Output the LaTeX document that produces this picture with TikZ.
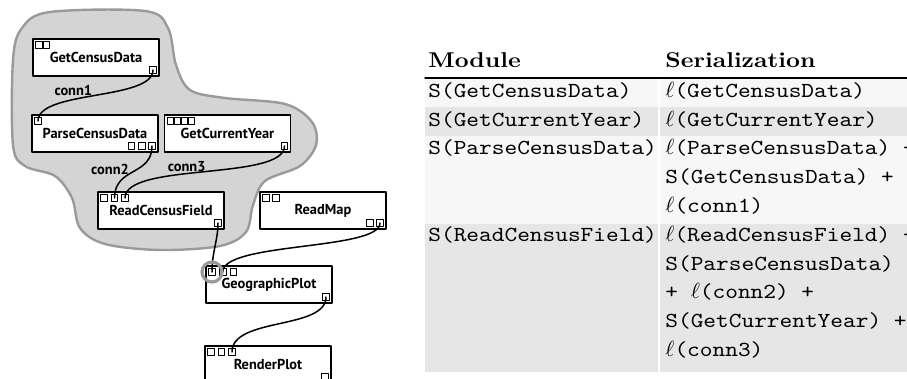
\documentclass[tikz,border=0pt]{standalone}
\usepackage{fontspec}
\newfontfamily\wffont{PT Sans}
\newfontfamily\tabtt{lmmono10-regular.otf}[FakeStretch=1.13]
\newfontfamily\tabhead{lmroman10-bold.otf}[FakeStretch=1.13]
\definecolor{blobfill}{HTML}{D4D4D4}
\definecolor{blobline}{HTML}{9A9A9A}
\definecolor{rowlight}{HTML}{F7F7F7}
\definecolor{rowdark}{HTML}{E6E6E6}

\begin{document}
\begin{tikzpicture}[x=0.5pt,y=-0.5pt,line cap=round,line join=round,
  module/.style={draw,line width=0.8pt,fill=white,minimum width=63pt,minimum height=18.5pt,inner sep=0pt,
    font=\wffont\bfseries\fontsize{7.2}{8}\selectfont},
  port/.style={draw,line width=0.5pt,fill=white,minimum size=3.3pt,inner sep=0pt},
  conn/.style={line width=0.75pt},
  connlabel/.style={inner sep=0pt,font=\wffont\bfseries\fontsize{7.2}{8}\selectfont},
  cell/.style={anchor=base west,inner sep=0pt,font=\tabtt\fontsize{10.7}{14.35}\selectfont},
  headcell/.style={anchor=base west,inner sep=0pt,font=\tabhead\fontsize{10.7}{14}\selectfont}]
  \useasboundingbox (0,0) rectangle (907,379);
  \clip (0,0) rectangle (907,379);

  % grey region round the upstream part
  \draw[blobline,fill=blobfill,line width=1.2pt] plot[smooth cycle,tension=0.55] coordinates {
    (13,60) (22,28) (50,12) (145,11) (168,28) (176,65) (190,90) (225,98) (285,104)
    (312,122) (316,145) (300,166) (265,181) (253,205) (246,232) (220,246) (160,250)
    (105,244) (80,228) (72,198) (55,176) (25,166) (13,145)};

  % modules
  \node[module] (gcd) at (96,57.5) {GetCensusData};
  \node[module] (pcd) at (95,133.5) {ParseCensusData};
  \node[module] (gcy) at (227.5,133.5) {GetCurrentYear};
  \node[module] (rcf) at (161,210.5) {ReadCensusField};
  \node[module] (rm) at (323,210.5) {ReadMap};
  \node[module] (gp) at (269,284.5) {GeographicPlot};
  \node[module] (rp) at (268,364.5) {RenderPlot};

  % ports: box / inputs / spacing / outputs / spacing
  \foreach \b/\ni/\di/\no/\do in {gcd/2/7.3/1/10, pcd/1/10/3/10.3, gcy/4/7/1/10,
      rcf/3/10.5/1/10, rm/2/10/2/10, gp/3/10.7/1/10, rp/3/10.5/1/10} {
    \foreach \k in {1,...,\ni}
      \node[port,anchor=north west] (\b-i\k) at ([shift={({3+(\k-1)*\di},3)}]\b.north west) {};
    \foreach \k in {1,...,\no}
      \node[port,anchor=south east] (\b-o\k) at ([shift={({-3-(\no-\k)*\do},-3)}]\b.south east) {};
  }

  % connections
  \draw[conn] (gcd-o1.center) .. controls +(0,30.5) and +(0,-31) .. (pcd-i1.center);
  \draw[conn] (pcd-o3.center) .. controls +(0,30) and +(0,-31) .. (rcf-i2.center);
  \draw[conn] (gcy-o1.center) .. controls +(0,35) and +(0,-36) .. (rcf-i3.center);
  \draw[conn] (rcf-o1.center) .. controls +(0,17) and +(0,-20) .. (gp-i1.center);
  \draw[conn] (rm-o2.center) .. controls +(0,27.5) and +(0,-30) .. (gp-i2.center);
  \draw[conn] (gp-o1.center) .. controls +(0,33) and +(0,-35) .. (rp-i3.center);
  \node[connlabel] (c1) at (73.3,90) {conn1};
  \node[connlabel] (c2) at (110,169) {conn2};
  \node[connlabel] (c3) at (186.7,166.5) {conn3};
  \draw[blobline,line width=1.6pt] (gp-i1.center) circle (10);

  % table
  \fill[rowlight] (425,79) rectangle (658,107.5);
  \fill[rowlight] (660,79) rectangle (907,107.5);
  \fill[rowdark] (425,107.5) rectangle (658,136.5);
  \fill[rowdark] (660,107.5) rectangle (907,136.5);
  \fill[rowlight] (425,136.5) rectangle (658,224);
  \fill[rowlight] (660,136.5) rectangle (907,224);
  \fill[rowdark] (425,224) rectangle (658,372);
  \fill[rowdark] (660,224) rectangle (907,372);
  \draw[line width=0.7pt] (425,78) -- (907,78);
  \node[headcell] (hmod) at (428,67.5) {Module};
  \node[headcell] (hser) at (665,67.5) {Serialization};
  \node[cell] (m1) at (428,97.5) {S(GetCensusData)};
  \node[cell] (m2) at (428,126.3) {S(GetCurrentYear)};
  \node[cell] (m3) at (428,155) {S(ParseCensusData)};
  \node[cell] (m4) at (428,241.5) {S(ReadCensusField)};
  \node[cell] (s1) at (665,97.5) {$\ell$(GetCensusData)};
  \node[cell] (s2) at (665,126.3) {$\ell$(GetCurrentYear)};
  \node[cell] (s3a) at (665,155) {$\ell$(ParseCensusData) +};
  \node[cell] (s3b) at (665,184) {S(GetCensusData) +};
  \node[cell] (s3c) at (665,212.7) {$\ell$(conn1)};
  \node[cell] (s4a) at (665,241.5) {$\ell$(ReadCensusField) +};
  \node[cell] (s4b) at (665,270.3) {S(ParseCensusData)};
  \node[cell] (s4c) at (665,299) {+ $\ell$(conn2) +};
  \node[cell] (s4d) at (665,327.8) {S(GetCurrentYear) +};
  \node[cell] (s4e) at (665,356.5) {$\ell$(conn3)};
\end{tikzpicture}
\end{document}
